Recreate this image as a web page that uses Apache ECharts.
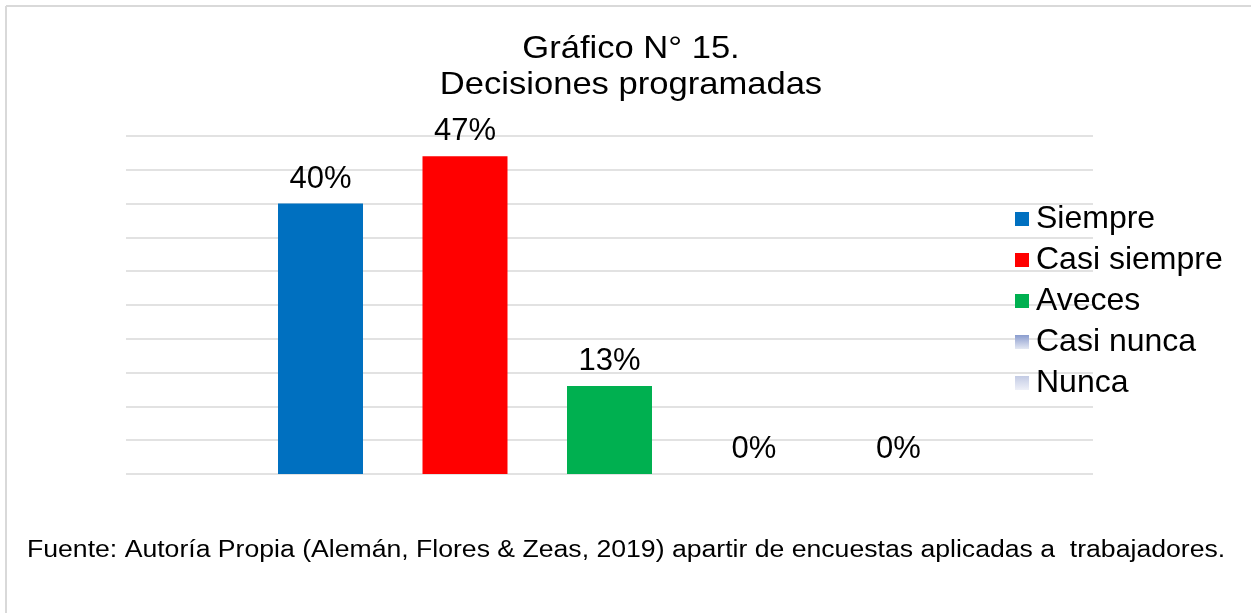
<!DOCTYPE html>
<html lang="es" style="height: 100%">
<head>
  <meta charset="utf-8">
</head>
<body style="height: 100%; margin: 0; background: #fff">
  <div id="container" style="width: 1251px; height: 613px"></div>

  <script type="text/javascript" src="https://fastly.jsdelivr.net/npm/echarts@6/dist/echarts.min.js"></script>
  <script type="text/javascript">
    // datos del gráfico
    var categorias = [''];
    var respuestas = ['Siempre', 'Casi siempre', 'Aveces', 'Casi nunca', 'Nunca'];
    var porcentajes = [40, 47, 13, 0, 0];
    var tituloTexto = 'Gráfico N° 15.\nDecisiones programadas';
    var fuenteTexto = 'Fuente: Autoría Propia (Alemán, Flores & Zeas, 2019) apartir de encuestas aplicadas a  trabajadores.';

    var colores = [
      '#0070C0',
      '#FF0000',
      '#00B050',
      new echarts.graphic.LinearGradient(0, 0, 0, 1, [
        { offset: 0, color: '#8A9CCE' },
        { offset: 1, color: '#E4E8F3' }
      ]),
      new echarts.graphic.LinearGradient(0, 0, 0, 1, [
        { offset: 0, color: '#C3CBE4' },
        { offset: 1, color: '#EEF0F8' }
      ])
    ];

    var dom = document.getElementById('container');
    var myChart = echarts.init(dom, null, { renderer: 'canvas' });

    var fuente = 'Liberation Sans, Arial, sans-serif';

    var option = {
      backgroundColor: '#fff',
      animation: false,
      legend: {
        orient: 'vertical',
        left: 1010,
        top: 198,
        itemWidth: 14,
        itemHeight: 14,
        itemGap: 9,
        icon: 'rect',
        textStyle: {
          fontFamily: fuente,
          fontSize: 32,
          lineHeight: 32,
          color: '#000',
          padding: [0, 0, 0, 2]
        },
        data: respuestas
      },
      grid: {
        left: 126,
        right: 158,
        top: 136,
        bottom: 139
      },
      xAxis: {
        type: 'category',
        data: categorias,
        axisLine: { show: false },
        axisTick: { show: false },
        axisLabel: { show: false }
      },
      yAxis: {
        type: 'value',
        min: 0,
        max: 50,
        interval: 5,
        axisLabel: { show: false },
        axisLine: { show: false },
        axisTick: { show: false },
        splitLine: { lineStyle: { color: '#D9D9D9', width: 1.5 } }
      },
      series: respuestas.map(function (nombre, i) {
        return {
          name: nombre,
          type: 'bar',
          barWidth: 85,
          barGap: '70%',
          data: [porcentajes[i]],
          itemStyle: { color: colores[i] },
          label: {
            show: true,
            position: 'top',
            distance: 9,
            formatter: '{c}%',
            fontFamily: fuente,
            fontSize: 31,
            color: '#000'
          }
        };
      }),
      graphic: [
        {
          type: 'line',
          shape: { x1: 6, y1: 6, x2: 1251, y2: 6 },
          style: { stroke: '#D9D9D9', lineWidth: 2 }
        },
        {
          type: 'line',
          shape: { x1: 6, y1: 6, x2: 6, y2: 613 },
          style: { stroke: '#D9D9D9', lineWidth: 2 }
        },
        {
          // título, algo ensanchado como en el original
          type: 'text',
          x: 631,
          y: 31,
          scaleX: 1.08,
          style: {
            text: tituloTexto,
            font: '32px ' + fuente,
            lineHeight: 36,
            align: 'center',
            fill: '#000'
          }
        },
        {
          type: 'text',
          x: 27,
          y: 539,
          scaleX: 1.157,
          style: {
            text: fuenteTexto,
            font: '23px ' + fuente,
            fill: '#000'
          }
        }
      ]
    };

    myChart.setOption(option);
    window.addEventListener('resize', myChart.resize);
  </script>
</body>
</html>
